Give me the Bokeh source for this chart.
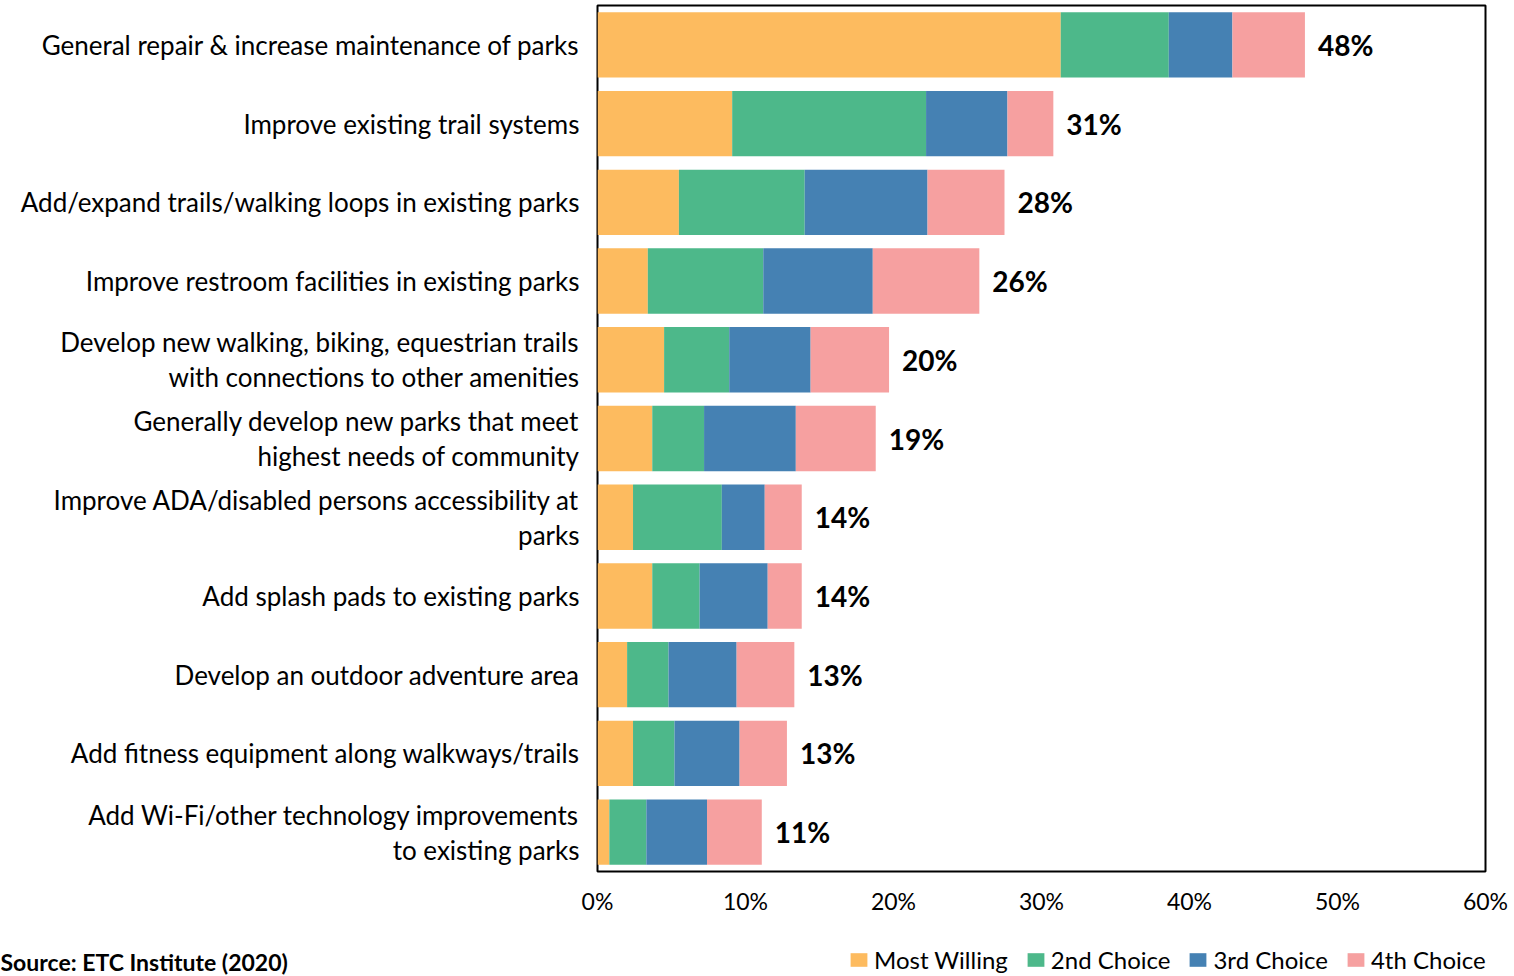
from bokeh.plotting import figure
from bokeh.layouts import column, row
from bokeh.models import (ColumnDataSource, FixedTicker, Legend, LegendItem,
                          Label, Range1d, CustomJSTickFormatter)
from bokeh.core.properties import value
from bokeh.embed import file_html
from bokeh.resources import INLINE

categories = [
    "General repair & increase maintenance of parks",
    "Improve existing trail systems",
    "Add/expand trails/walking loops in existing parks",
    "Improve restroom facilities in existing parks",
    "Develop new walking, biking, equestrian trails\nwith connections to other amenities",
    "Generally develop new parks that meet\nhighest needs of community",
    "Improve ADA/disabled persons accessibility at\nparks",
    "Add splash pads to existing parks",
    "Develop an outdoor adventure area",
    "Add fitness equipment along walkways/trails",
    "Add Wi-Fi/other technology improvements\nto existing parks",
]
most_willing = [31.3, 9.1, 5.5, 3.4, 4.5, 3.7, 2.4, 3.7, 2.0, 2.4, 0.8]
second_choice = [7.3, 13.1, 8.5, 7.8, 4.4, 3.5, 6.0, 3.2, 2.8, 2.8, 2.5]
third_choice = [4.3, 5.5, 8.3, 7.4, 5.5, 6.2, 2.9, 4.6, 4.6, 4.4, 4.1]
fourth_choice = [4.9, 3.1, 5.2, 7.2, 5.3, 5.4, 2.5, 2.3, 3.9, 3.2, 3.7]
totals = [48, 31, 28, 26, 20, 19, 14, 14, 13, 13, 11]
series_names = ["Most Willing", "2nd Choice", "3rd Choice", "4th Choice"]
x_ticks = [0, 10, 20, 30, 40, 50, 60]
source_text = "Source:  ETC Institute (2020)"

colors = ["#FDBB5F", "#4DB88A", "#4581B3", "#F6A0A0"]
FONT = "Lato"

n = len(categories)
ypos = list(range(n))
series = [most_willing, second_choice, third_choice, fourth_choice]

W = 1514
H1 = 930
H2 = 46

p = figure(width=W, height=H1, output_backend="svg", toolbar_location=None,
           x_range=Range1d(0, 60), y_range=Range1d(n - 0.5, -0.5),
           min_border_left=597, min_border_right=29, min_border_top=5,
           min_border_bottom=H1 - 871)
p.grid.grid_line_color = None
p.outline_line_color = "black"
p.outline_line_width = 2
p.background_fill_color = "white"
p.border_fill_color = "white"

left = [0.0] * n
for vals, col in zip(series, colors):
    right = [a + b for a, b in zip(left, vals)]
    src = ColumnDataSource(dict(y=ypos, left=left, right=right))
    p.hbar(y="y", left="left", right="right", height=0.83, source=src,
           fill_color=col, line_color=None)
    left = right

lab_src = ColumnDataSource(dict(x=left, y=ypos, t=[f"{v}%" for v in totals]))
p.text(x="x", y="y", text="t", source=lab_src, x_offset=13,
       text_baseline="middle", text_align="left",
       text_font=value(FONT), text_font_style="bold",
       text_font_size="28px", text_color="black")

# y axis
yax = p.yaxis[0]
yax.ticker = FixedTicker(ticks=ypos)
yax.major_label_overrides = {i: c for i, c in enumerate(categories)}
yax.major_label_text_font = FONT
yax.major_label_text_font_size = "26px"
yax.major_label_text_color = "black"
yax.major_label_text_line_height = 1.1
yax.major_label_standoff = 18
yax.major_tick_line_color = None
yax.major_tick_out = 0
yax.minor_tick_line_color = None
yax.axis_line_color = None

# x axis
xax = p.xaxis[0]
xax.ticker = FixedTicker(ticks=x_ticks)
xax.formatter = CustomJSTickFormatter(code="return tick + '%';")
xax.major_label_text_font = FONT
xax.major_label_text_font_size = "23px"
xax.major_label_text_color = "black"
xax.major_label_standoff = 15
xax.major_tick_line_color = None
xax.major_tick_out = 0
xax.minor_tick_line_color = None
xax.axis_line_color = None

# footer strip: legend + source note
p2 = figure(width=W, height=H2, output_backend="svg", toolbar_location=None,
            x_range=Range1d(0, 1), y_range=Range1d(0, 1),
            x_axis_location=None, y_axis_location=None,
            min_border_left=0, min_border_right=0, min_border_top=0,
            min_border_bottom=0)
p2.grid.grid_line_color = None
p2.outline_line_color = None
p2.background_fill_color = "white"
p2.border_fill_color = "white"
items = []
for col, name in zip(colors, series_names):
    # zero-width proxy renderer; only its legend swatch shows
    r = p2.hbar(y=[0.5], left=[0], right=[0], height=0.0, fill_color=col,
                line_color=None)
    items.append(LegendItem(label=name, renderers=[r]))

legend = Legend(items=items, orientation="horizontal", location=(848, 2),
                label_text_font=FONT, label_text_font_size="24px",
                label_text_color="black",
                glyph_width=21, glyph_height=17, label_standoff=5,
                spacing=17, padding=0, margin=0,
                border_line_color=None, background_fill_alpha=0)
p2.add_layout(legend, "center")

src_label = Label(x=0, y=1, x_units="screen", y_units="screen",
                  text=source_text, text_font=FONT, text_font_style="bold",
                  text_font_size="23px", text_baseline="bottom",
                  text_color="black")
p2.add_layout(src_label)

layout = column(p, row(p2, spacing=0), spacing=0)
open("out.html", "w").write(file_html(layout, INLINE))
